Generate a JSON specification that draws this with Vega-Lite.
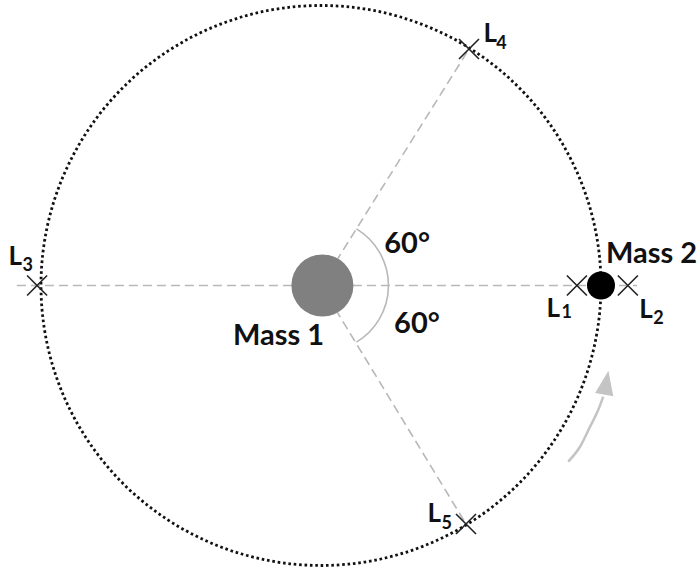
{
  "$schema": "https://vega.github.io/schema/vega-lite/v6.json",
  "width": 700,
  "height": 567,
  "padding": 0,
  "autosize": "none",
  "background": "white",
  "config": {"view": {"stroke": null}},
  "datasets": {
    "guides": [
      {"x": -108.6, "y": 0, "x2": 112.9, "y2": 0},
      {"x": 0, "y": 0, "x2": 52.86, "y2": 84.46},
      {"x": 0, "y": 0, "x2": 51.79, "y2": -85.18}
    ],
    "angle": [{"x": 0.5, "y": 0, "a1": 31, "a2": 149, "r": 23.6}],
    "orbit": [{"x": 0, "y": 0}],
    "mass1": [{"x": 0.5, "y": 0}],
    "mass2": [{"x": 100, "y": 0}],
    "lpoints": [
      {"name": "L1", "x": 91.4, "y": 0},
      {"name": "L2", "x": 109.6, "y": 0},
      {"name": "L3", "x": -101.4, "y": 0},
      {"name": "L4", "x": 52.86, "y": 84.46},
      {"name": "L5", "x": 51.79, "y": -85.18}
    ],
    "arrow": [
      {"x": 88.3, "y": -62.9},
      {"x": 92.5, "y": -57.6},
      {"x": 96.1, "y": -50.4},
      {"x": 99.0, "y": -44.5},
      {"x": 100.8, "y": -39.7}
    ],
    "arrowhead": [{"x": 101.9, "y": -34.7, "angle": 10}],
    "llabels": [
      {"text": "L", "x": -111.6, "y": 7.3},
      {"text": "L", "x": 58.0, "y": 87.0},
      {"text": "L", "x": 38.0, "y": -84.5},
      {"text": "L", "x": 80.5, "y": -11.25},
      {"text": "L", "x": 113.7, "y": -11.6}
    ],
    "labels": [
      {"text": "Mass 1", "x": -31.4, "y": -21.2},
      {"text": "Mass 2", "x": 101.8, "y": 8.0},
      {"text": "60°", "x": 22.6, "y": 11.6},
      {"text": "60°", "x": 26.1, "y": -17.0}
    ],
    "subs": [
      {"text": "3", "x": -106.6, "y": 5.2},
      {"text": "4", "x": 62.6, "y": 84.5},
      {"text": "5", "x": 43.0, "y": -86.9},
      {"text": "1", "x": 85.9, "y": -11.6},
      {"text": "2", "x": 118.7, "y": -13.75}
    ]
  },
  "encoding": {
    "x": {"field": "x", "type": "quantitative", "axis": null, "scale": {"domain": [-114.64, 135.36], "nice": false, "zero": false}},
    "y": {"field": "y", "type": "quantitative", "axis": null, "scale": {"domain": [-100.54, 101.96], "nice": false, "zero": false}}
  },
  "layer": [
    {
      "data": {"name": "guides"},
      "mark": {"type": "rule", "stroke": "#b8b8b8", "strokeWidth": 1.6, "strokeDash": [9, 5]},
      "encoding": {"x2": {"field": "x2"}, "y2": {"field": "y2"}}
    },
    {
      "data": {"name": "angle"},
      "mark": {"type": "arc", "filled": false, "stroke": "#b8b8b8", "strokeWidth": 1.6, "fill": null},
      "encoding": {
        "theta": {"field": "a1", "type": "quantitative", "scale": {"type": "linear", "domain": [0, 360], "range": [0, 6.283185307]}},
        "theta2": {"field": "a2"},
        "radius": {"field": "r", "type": "quantitative", "scale": {"type": "linear", "domain": [0, 100], "range": [0, 280]}},
        "radius2": {"field": "r"}
      }
    },
    {
      "data": {"name": "orbit"},
      "mark": {"type": "point", "shape": "circle", "size": 313600, "filled": false, "stroke": "#111111", "strokeWidth": 2.8, "strokeDash": [2.6, 2.8], "opacity": 1}
    },
    {
      "data": {"name": "mass1"},
      "mark": {"type": "point", "shape": "circle", "size": 3844, "filled": true, "fill": "#808080", "opacity": 1, "strokeWidth": 0}
    },
    {
      "data": {"name": "mass2"},
      "mark": {"type": "point", "shape": "circle", "size": 784, "filled": true, "fill": "#000000", "opacity": 1, "strokeWidth": 0}
    },
    {
      "data": {"name": "lpoints"},
      "mark": {"type": "point", "shape": "M-1,-1L1,1M-1,1L1,-1", "size": 400, "filled": false, "stroke": "#222222", "strokeWidth": 1.6, "opacity": 1}
    },
    {
      "data": {"name": "arrow"},
      "mark": {"type": "line", "interpolate": "monotone", "stroke": "#c4c4c4", "strokeWidth": 2.5},
      "encoding": {}
    },
    {
      "data": {"name": "arrowhead"},
      "mark": {"type": "point", "shape": "M0,-1L0.76,1L-0.76,1Z", "size": 590, "filled": true, "fill": "#c4c4c4", "opacity": 1, "strokeWidth": 0},
      "encoding": {"angle": {"field": "angle", "type": "quantitative", "scale": null}}
    },
    {
      "data": {"name": "labels"},
      "mark": {"type": "text", "font": "Lato", "fontWeight": "bold", "fontSize": 29, "align": "left", "baseline": "alphabetic", "color": "#111111"},
      "encoding": {"text": {"field": "text"}}
    },
    {
      "data": {"name": "llabels"},
      "mark": {"type": "text", "font": "Lato", "fontWeight": "bold", "fontSize": 26, "align": "left", "baseline": "alphabetic", "color": "#111111"},
      "encoding": {"text": {"field": "text"}}
    },
    {
      "data": {"name": "subs"},
      "mark": {"type": "text", "font": "Lato", "fontWeight": "bold", "fontSize": 18, "align": "left", "baseline": "alphabetic", "color": "#111111"},
      "encoding": {"text": {"field": "text"}}
    }
  ]
}
